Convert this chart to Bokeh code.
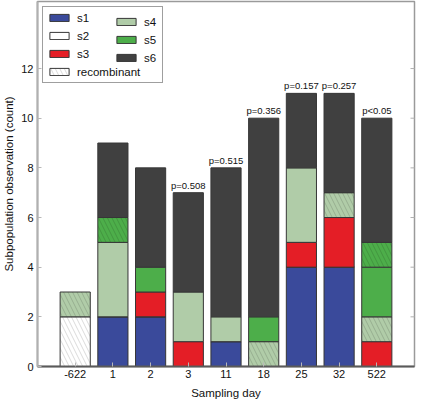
from bokeh.plotting import figure
from bokeh.models import (ColumnDataSource, Legend, LegendItem,
                          FixedTicker, Range1d)
from bokeh.core.properties import value
from bokeh.embed import file_html
from bokeh.resources import INLINE

# ---- data ----
days = ["-622", "1", "2", "3", "11", "18", "25", "32", "522"]
s1 = [0, 2, 2, 0, 1, 0, 4, 4, 0]
s1_rec = [0, 0, 0, 0, 0, 0, 0, 0, 0]
s2 = [0, 0, 0, 0, 0, 0, 0, 0, 0]
s2_rec = [2, 0, 0, 0, 0, 0, 0, 0, 0]
s3 = [0, 0, 1, 1, 0, 0, 1, 2, 1]
s3_rec = [0, 0, 0, 0, 0, 0, 0, 0, 0]
s4 = [0, 3, 0, 2, 1, 0, 3, 0, 0]
s4_rec = [1, 0, 0, 0, 0, 1, 0, 1, 1]
s5 = [0, 0, 1, 0, 0, 1, 0, 0, 2]
s5_rec = [0, 1, 0, 0, 0, 0, 0, 0, 1]
s6 = [0, 3, 4, 4, 6, 8, 3, 4, 5]
p_labels = ["", "", "", "p=0.508", "p=0.515", "p=0.356", "p=0.157", "p=0.257", "p<0.05"]
y_ticks = [0, 2, 4, 6, 8, 10, 12]
y_max = 14.7

series = [
    ("s1", s1, s1_rec, "#3a4a9b"),
    ("s2", s2, s2_rec, "#ffffff"),
    ("s3", s3, s3_rec, "#e41e26"),
    ("s4", s4, s4_rec, "#b0cca8"),
    ("s5", s5, s5_rec, "#4dae4a"),
    ("s6", s6, [0] * len(days), "#404040"),
]

FONT = "Liberation Sans"
xs = list(range(1, len(days) + 1))
x_max = len(days) + 1

p = figure(width=416, height=401, output_backend="svg", toolbar_location=None,
           x_range=Range1d(0, x_max), y_range=Range1d(0, y_max),
           min_border_left=31, min_border_right=2, min_border_top=1,
           min_border_bottom=30)
p.xgrid.visible = False
p.ygrid.visible = False
p.background_fill_color = "white"
p.outline_line_color = "#9a9a9a"
p.outline_line_width = 1.5

bottom = [0] * len(days)
plain_r = {}
rec_r = {}
for name, plain, rec, color in series:
    for vals, hatched in ((plain, False), (rec, True)):
        # a plain series with no bars keeps zero-height entries at the base so
        # that its legend swatch is still drawn
        keep_all = (not hatched) and not any(vals)
        data = dict(x=[], bottom=[], top=[])
        for i, v in enumerate(vals):
            if v > 0 or keep_all:
                data["x"].append(xs[i])
                data["bottom"].append(bottom[i])
                data["top"].append(bottom[i] + v)
                bottom[i] += v
        src = ColumnDataSource(data)
        kw = {}
        if hatched:
            kw = dict(hatch_pattern="\\", hatch_color="black", hatch_alpha=0.18,
                      hatch_scale=9, hatch_weight=0.8)
        r = p.vbar(x="x", bottom="bottom", top="top", width=0.8, source=src,
                   fill_color=color, line_color="#363636", line_width=1, **kw)
        if hatched:
            rec_r[name] = r
        else:
            plain_r[name] = r

totals = bottom
lab = [(x, t, s) for x, t, s in zip(xs, totals, p_labels) if s]
tsrc = ColumnDataSource(dict(x=[a[0] for a in lab], y=[a[1] for a in lab],
                             t=[a[2] for a in lab]))
p.text(x="x", y="y", text="t", source=tsrc, y_offset=-2,
       text_align="center", text_baseline="bottom",
       text_font=value(FONT), text_font_size="9.5px", text_color="#111111")

# right-hand inner tick marks (box style)
p.scatter(x=[x_max] * len(y_ticks), y=y_ticks, marker="dash", size=8,
          line_color="#b0b0b0", line_width=1)

# axes
p.xaxis.ticker = FixedTicker(ticks=xs)
p.xaxis.major_label_overrides = {x: d for x, d in zip(xs, days)}
p.xaxis.axis_label = "Sampling day"
p.yaxis.ticker = FixedTicker(ticks=y_ticks)
p.yaxis.axis_label = "Subpopulation observation (count)"
for ax in (p.xaxis[0], p.yaxis[0]):
    ax.major_tick_in = 4
    ax.major_tick_out = 0
    ax.minor_tick_line_color = None
    ax.major_tick_line_color = "#b8b8b8"
    ax.major_label_text_font = FONT
    ax.major_label_text_font_size = "11px"
    ax.major_label_text_color = "#111111"
    ax.axis_label_text_font = FONT
    ax.axis_label_text_font_size = "11.5px"
    ax.axis_label_text_font_style = "normal"
    ax.axis_label_text_color = "#111111"
p.xaxis.axis_line_color = "#5a5a5a"
p.xaxis.axis_line_width = 2
p.xaxis.major_label_standoff = 3
p.xaxis.axis_label_standoff = 6
p.yaxis.axis_line_color = "#b0b0b0"
p.yaxis.axis_line_width = 2
p.yaxis.major_label_standoff = 4
p.yaxis.axis_label_standoff = 3

# legends
leg_style = dict(padding=4, spacing=5, glyph_width=24, glyph_height=9,
                 label_height=13, label_standoff=6,
                 label_text_font=FONT, label_text_font_size="11.5px",
                 label_text_color="#111111", margin=5)
leg1 = Legend(items=[LegendItem(label="s1", renderers=[plain_r["s1"]]),
                     LegendItem(label="s2", renderers=[plain_r["s2"]]),
                     LegendItem(label="s3", renderers=[plain_r["s3"]]),
                     LegendItem(label="recombinant", renderers=[rec_r["s2"]])],
              location="top_left", label_width=81,
              border_line_color="#404040", border_line_width=1,
              background_fill_color="white", background_fill_alpha=1,
              **leg_style)
leg2 = Legend(items=[LegendItem(label="s4", renderers=[plain_r["s4"]]),
                     LegendItem(label="s5", renderers=[plain_r["s5"]]),
                     LegendItem(label="s6", renderers=[plain_r["s6"]])],
              location=(73, 298), label_width=10,
              border_line_alpha=0, background_fill_alpha=0,
              **leg_style)
p.add_layout(leg1, "center")
p.add_layout(leg2, "center")

open("out.html", "w").write(file_html(p, INLINE))
